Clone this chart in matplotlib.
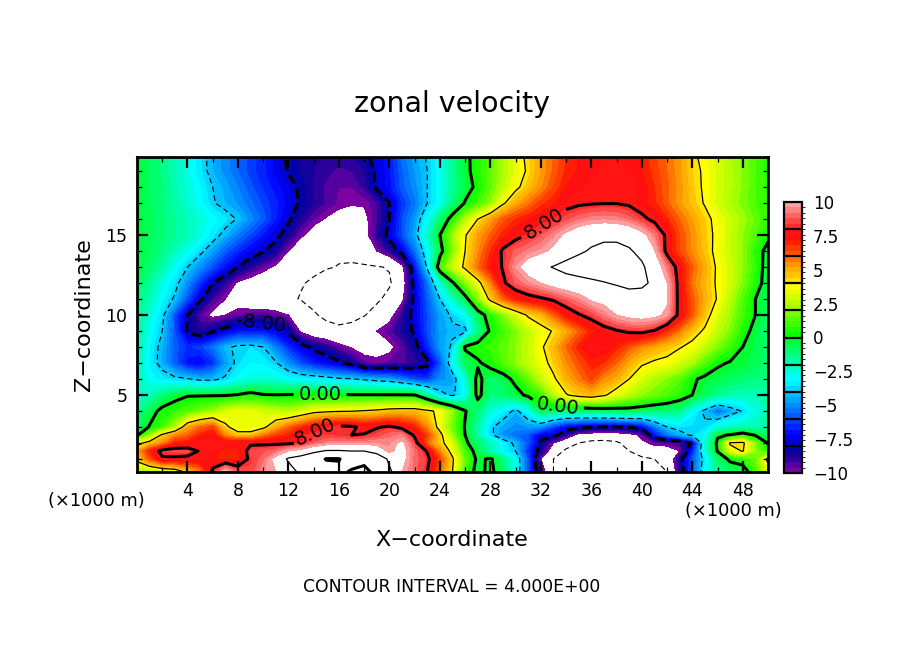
import numpy as np
import matplotlib
matplotlib.use("Agg")
import matplotlib.pyplot as plt
from matplotlib.colors import ListedColormap, BoundaryNorm

x_km = list(range(0, 51))
z_km = [0.19, 1, 1.5, 2, 2.5, 3, 4, 5, 6, 7, 8, 9, 10, 11, 12, 13, 14, 15, 16, 17, 18, 19, 19.88]

u_z00 = [2,2.3,2.6,3,4.3,5.5,8.3,10.3,8.8,8.5,9.5,10,11,12.5,13.5,14,15,16.5,17,15,12.5,10,9,8,6,4,1,-0.5,0.4,-1,-3,-6,-9,-12,-13.5,-14,-14.5,-14.5,-13.5,-13.5,-13,-12.5,-12,-9,-6,-3,-1.5,-1,-0.8,1,3]
u_z01 = [4.5,6.2,7.8,7.8,7.7,7.7,7.3,7,7,8.3,9,10.5,12.3,13,14,16.2,16.2,14,15,14,11.5,10.5,9,8.3,6.5,4.2,1.5,-0.3,0.2,-1.2,-3,-6,-10,-12,-12.5,-13,-13,-13,-12.8,-12.5,-12.5,-12,-11.5,-8.5,-6,-3.5,-1,0.3,0.7,1.5,4.5]
u_z15 = [5,7,8.4,8.5,8.5,7.9,7.6,6.8,7,8.5,8.7,9,10,10.5,11.5,12.2,12.2,12,12,11,9.7,10.6,9,7.9,5.5,3.5,1,-0.6,-2,-3.3,-4,-6.5,-8.6,-11,-12.3,-12.8,-12.8,-12.6,-12.3,-12,-10.7,-10.5,-10.8,-10,-6.8,-2.5,0.1,3.3,4.1,2,0.5]
u_z02 = [3.5,4.6,5.5,7,7.2,7.8,7.8,7.7,7.7,7.8,7.8,7.8,7.8,8,8.8,9.3,9.5,9.5,9.5,9.6,9.5,10.3,8.5,6,4.5,3,0.3,-1,-2,-3.2,-4.3,-6,-8.3,-10,-11.2,-12,-12.5,-12.6,-12.3,-11.3,-10.2,-9.8,-9.5,-9.2,-7.8,-2.5,0.3,4.2,4.3,1.8,-0.1]
u_z25 = [-0.2,2,4.3,5.5,6,7,7.4,5.5,4.5,4.5,5.7,6.5,7,7.9,8.2,8.4,8.2,8,8.05,8.5,9,9.3,7.8,6.5,4.5,2,0,-1.8,-3.7,-5,-5.5,-6,-7.5,-7.5,-9,-10.5,-10.7,-10.8,-10.7,-10.5,-9.7,-7,-5.5,-4.5,-3.8,-3,-0.2,0.1,0.7,-0.1,-0.8]
u_z03 = [-1,0.1,1,2.5,5,6,6.5,4.3,3.3,3.3,3.7,5,6,6.8,7.5,7.9,8.3,8.2,7.7,7.9,8.2,7.7,7,5.5,3.5,1.5,-0.1,-1.8,-3.8,-4.6,-5,-4.8,-5,-6.3,-7.3,-7.7,-7.9,-8.1,-8.1,-7.9,-7.5,-5.5,-4,-3.6,-3.7,-3.7,-2.5,-2.2,-2,-1.9,-1.8]
u_z04 = [-1.5,-0.6,0.4,0.8,1.2,1.7,2.2,3,3.5,3.3,3,2.7,2.5,3,3.6,3.8,3.9,3.95,4.1,4.3,4.6,4.7,4.7,4.3,3.7,2,0.1,-1.2,-2.5,-3.3,-4.3,-3,-0.6,-1,-1.2,-1.1,-1,-0.8,-0.7,-0.6,-0.8,-1,-1.1,-1.4,-3,-4.3,-5.6,-4.6,-3.9,-2.7,-2]
u_z05 = [-2.5,-2,-1.2,-0.5,-0.1,-0.1,-0.1,-0.1,0.1,0.5,0.1,0.05,0.1,0.1,0.1,0.1,0.1,0.1,0.1,0.1,0.1,0.1,0.05,-1.5,-3.6,-4.2,-3,0.5,-1.3,-1,-0.5,0.3,1,2.5,3.9,4.5,4.8,4.2,3.3,2.6,2,1.6,1.2,0.7,0,-0.8,-1.5,-1.9,-2,-2,-1.8]
u_z06 = [-2,-3,-3.4,-3.7,-3.9,-4.3,-4.3,-3.8,-3,-2.6,-2.5,-2.6,-3,-3.2,-3.3,-3.5,-3.8,-3.9,-4.2,-4.5,-4.7,-5.3,-6,-6.3,-5,-4.6,-2.5,0.5,-1,-0.6,0.4,1.5,2.7,3.8,4.9,5.7,6.5,5.5,5,4,3,2.4,1.9,1.3,0.2,-0.3,-0.5,-0.8,-1,-1.2,-1.3]
u_z07 = [-1.9,-3.3,-4.5,-5.8,-7,-7.3,-6.5,-4.8,-3.7,-3.2,-3.3,-3.9,-5,-6,-6.8,-7.3,-7.8,-8.5,-9.5,-9.7,-9.5,-9.3,-9,-8.4,-6,-3,-0.8,-0.2,0.5,1.2,2,2.7,3.5,4.4,5.5,6.3,7,6.8,6,5,4.2,3.8,3.6,3,2.3,1.2,0.2,-0.1,-0.3,-0.7,-1]
u_z08 = [-1.7,-3.2,-4.4,-5.8,-6.5,-6.2,-5.4,-4.3,-3.7,-3.6,-4,-5.2,-6.5,-7.5,-8.3,-8.8,-9.6,-10.1,-10.5,-10.6,-10.3,-9.5,-8.5,-6.6,-4.8,-3.8,0.2,0.6,0.9,1.4,2,2.8,3.8,4.8,6,7,7.8,7.6,7,6.2,5.5,5,4.6,4.1,3.6,2.7,1.8,0.9,0,-0.5,-1]
u_z09 = [-1.6,-2.9,-4,-6,-8.2,-8.8,-8.2,-7.5,-7,-6.8,-6.8,-7.4,-8.3,-10.2,-11,-11.3,-11.5,-11.3,-10.7,-10,-9.4,-8.7,-7.8,-6,-4.7,-4.2,-4.3,-1.5,0.2,1,1.8,2.7,3.5,4.1,5,6,7,7.5,7.9,8.2,8.3,7.9,6.8,5.8,4.6,3.8,2.7,1.8,0.5,-0.4,-1]
u_z10 = [-1.4,-2.5,-3.7,-6,-8,-9.5,-10.3,-10,-9.6,-9.4,-9.3,-9.5,-10,-10.6,-11.8,-12.4,-12.8,-12.6,-12.1,-11.3,-10.5,-9,-7.5,-6,-4.7,-3.8,-3,-0.7,0.6,1.8,3,4.2,4.8,6,7.2,7.9,8.4,9.2,10,10.4,10.6,10.4,9.7,7.6,6.2,4.6,3.2,2.2,1,0,-1]
u_z11 = [-1.1,-2,-3.1,-4.2,-6,-7.8,-9.2,-10,-10.6,-11,-11.2,-11.5,-11.7,-12.1,-12.5,-12.8,-13,-13,-12.8,-12.3,-11.5,-10.3,-7.6,-5.8,-4,-2.2,-0.5,1.8,4.4,6,7,7.5,7.8,8.2,8.8,9.4,10.2,10.5,10.8,11,10.9,10.6,10.2,7.5,6.2,5,3.9,2.5,1.2,0,-0.8]
u_z12 = [-0.8,-1.6,-2.7,-3.6,-5,-6.5,-8,-9,-10.2,-10.6,-11,-11.3,-11.6,-11.9,-12.2,-12.6,-12.9,-13,-13,-12.8,-12.2,-10.8,-7.5,-5.5,-2.5,-0.2,1.8,3.5,5.6,7.8,8.8,9.4,10,10.6,11,11.3,11.6,11.9,12.2,12.6,12.5,11.5,10,7.5,5.8,4.8,3.8,3,1.8,0.5,-0.5]
u_z13 = [-0.5,-1,-1.8,-2.9,-4,-5,-6,-7,-8,-8.9,-9.6,-10.2,-10.8,-11.3,-11.7,-11.9,-12.05,-12.2,-12.2,-12.1,-11.9,-10.4,-7,-3.8,1,2.8,4.3,5.9,7.2,8.1,9.6,10.8,11.6,12.1,12.7,13,13.2,13.2,13.2,13,12.3,11,9.2,7.4,6.1,5,3.8,3,2,0.8,-0.6]
u_z14 = [-0.3,-0.8,-1.3,-2.1,-2.8,-3.7,-4.7,-5.8,-6.6,-7.3,-7.9,-8.7,-10,-11,-11.5,-11.8,-11.8,-11.5,-11,-10,-9,-7.5,-5.5,-3.2,-0.5,1.8,4,5.5,6.8,8.2,8.9,9.3,9.7,10.3,11,11.7,12.2,12.5,12.5,12.2,11.5,10.1,7.6,6.4,5.5,4.6,3.6,2.8,2,0.6,-0.4]
u_z150 = [-0.3,-0.7,-1.1,-1.6,-2,-2.6,-3.5,-4.4,-5.3,-6.1,-6.9,-7.6,-8.7,-9.8,-10.6,-11,-11.2,-11.1,-10.5,-9,-7.6,-6,-4.5,-2.2,0,2.2,3.9,5.2,6.1,7,7.6,8.1,8.7,9.4,10.3,11,11.4,11.6,11.6,11.3,10.5,9.2,7.7,6.4,5.5,4.5,3.7,2.8,2,1.2,0.3]
u_z16 = [-0.2,-0.7,-1.1,-1.6,-2,-2.5,-3,-3.5,-4.1,-5,-5.8,-6.8,-7.8,-8.8,-9.6,-10.1,-10.5,-10.6,-10.3,-9.3,-8,-6,-4.8,-3,-1,0.5,2.5,4,5.2,6.2,6.8,7.2,7.6,8,8.6,9.1,9.4,9.5,9.4,9,8.3,7.7,6.9,6,5.2,4.4,3.6,2.9,2.2,1.5,0.8]
u_z17 = [-0.2,-0.8,-1.2,-1.8,-2.4,-3,-3.9,-4.4,-4.9,-5.5,-6.1,-6.7,-7.4,-8.2,-8.8,-9.3,-9.7,-9.9,-9.9,-9.3,-8,-6.4,-5.4,-4,-2.9,-1.2,0.1,1,2,3.8,5,5.8,6.6,7.1,7.6,7.8,7.9,7.95,7.95,7.8,7.4,6.9,6.1,5.3,4.6,3.9,3,2.4,1.8,1.2,0.7]
u_z18 = [-0.2,-0.8,-1.2,-1.9,-2.5,-3.2,-4,-4.6,-5.2,-5.9,-6.5,-7,-7.6,-8.2,-8.9,-9.3,-9.6,-9.6,-9.1,-7.8,-7,-5.8,-5,-4,-2.9,-1.6,-0.5,0.3,1.4,2.6,3.7,4.6,5.5,6.4,7.2,7.5,7.7,7.7,7.8,7.8,7.5,6.8,6.1,5.4,4.5,3.8,3.1,2.5,1.9,1.2,0.7]
u_z19 = [-0.2,-0.8,-1.3,-2,-2.7,-3.5,-4.4,-5,-5.6,-6.2,-6.7,-7.4,-8.1,-8.5,-8.8,-9.1,-9.3,-9.2,-8.8,-7.8,-6.9,-5.7,-4.8,-4,-2.9,-1.6,-0.4,0.6,1.4,2.4,3.3,4.2,5.2,6.1,6.9,7.3,7.5,7.7,7.7,7.6,7.2,6.6,6,5.3,4.4,3.8,3.1,2.5,1.9,1.2,0.6]
u_z20 = [-0.2,-0.8,-1.3,-2,-2.7,-3.5,-4.5,-5,-5.6,-6.2,-6.7,-7.4,-8.2,-8.5,-8.7,-8.9,-9,-8.9,-8.3,-7.6,-6.8,-5.5,-4.6,-3.9,-2.8,-1.5,-0.3,0.5,1.3,2.3,3.4,4.3,5.2,6,6.8,7.2,7.5,7.6,7.6,7.5,7.1,6.5,5.9,5.3,4.3,3.6,3,2.4,1.8,1.2,0.6]

U = np.array([u_z00,u_z01,u_z15,u_z02,u_z25,u_z03,u_z04,u_z05,u_z06,u_z07,u_z08,u_z09,u_z10,
              u_z11,u_z12,u_z13,u_z14,u_z150,u_z16,u_z17,u_z18,u_z19,u_z20], float)

cell_rgb = [
    (125,0,160),(85,0,160),(45,0,155),(20,0,155),(0,0,170),
    (0,0,210),(0,0,235),(0,10,255),(0,35,255),(0,60,255),
    (0,90,255),(0,115,255),(0,140,255),(0,165,255),(0,190,255),
    (0,215,255),(0,240,255),(0,255,255),(0,255,225),(0,255,200),
    (0,255,170),(0,255,140),(0,255,110),(0,255,80),(0,255,50),
    (10,255,0),(30,255,0),(60,255,0),(90,255,0),(120,255,0),
    (160,255,0),(185,255,0),(210,255,0),(235,255,0),(255,255,0),
    (255,225,0),(255,195,0),(255,175,0),(255,150,0),(255,120,0),
    (255,85,0),(255,60,0),(255,30,0),(255,15,15),(255,20,20),
    (255,45,45),(255,70,70),(255,100,100),(255,130,130),(255,160,160),
]
cmap = ListedColormap([(r/255, g/255, b/255) for r, g, b in cell_rgb])
levels = np.linspace(-10, 10, 51)
norm = BoundaryNorm(levels, 50)

plt.rcParams["font.family"] = "DejaVu Sans"
fig = plt.figure(figsize=(9.04, 6.54), dpi=100)
W, H = 904.0, 654.0
ax = fig.add_axes([137/W, 1-472/H, (768-137)/W, (472-157)/H])
cf = ax.contourf(x_km, z_km, U, levels=levels, cmap=cmap, norm=norm, antialiased=False)

def lines(levs, lw, ls):
    return ax.contour(x_km, z_km, U, levels=levs, colors="k", linewidths=lw, linestyles=ls)

lines([-12, -4], 0.8, [(0, (5, 3))])
lines([4, 12], 0.9, "solid")
cs_neg = lines([-8], 2.2, [(0, (3.5, 1.5))])
cs_pos = lines([0, 8, 16], 2.2, "solid")
ax.clabel(cs_neg, fmt="%.2f", fontsize=14, manual=[(9.8, 9.2)])
ax.clabel(cs_pos, fmt="%.2f", fontsize=14,
          manual=[(14.5, 5.0), (33.3, 4.1), (14.2, 2.5), (32.3, 15.6)])

ax.set_xlim(0, 50)
ax.set_ylim(0.19, 19.88)
ax.set_xticks(range(4, 50, 4))
ax.set_xticks(range(2, 50, 2), minor=True)
ax.set_yticks([5, 10, 15])
ax.set_yticks(range(1, 20), minor=True)
ax.tick_params(which="major", direction="in", length=8, width=1.6, top=True, right=True,
               labelsize=12.5, pad=7)
ax.tick_params(which="minor", direction="in", length=3.5, width=0.9, top=True, right=True)
for s in ax.spines.values():
    s.set_linewidth(2)

cax = fig.add_axes([784/W, 1-473/H, 18/W, (473-202)/H])
cb = fig.colorbar(cf, cax=cax, ticks=[-10,-7.5,-5,-2.5,0,2.5,5,7.5,10], spacing="proportional")
cb.ax.set_yticklabels(["\u221210","\u22127.5","\u22125","\u22122.5","0","2.5","5","7.5","10"])
cb.ax.tick_params(length=0, labelsize=12, pad=8)
cb.outline.set_linewidth(1.6)
cax.hlines(np.arange(-8, 9, 2), 0, 1, transform=cax.get_yaxis_transform(), colors="k", lw=1.6)

def t(px, py, s, **kw):
    fig.text(px/W, 1-py/H, s, ha=kw.pop("ha","center"), va="center", **kw)

t(452, 104, "zonal velocity", fontsize=20.5)
t(452, 540, "X\u2212coordinate", fontsize=16)
t(84, 315, "Z\u2212coordinate", fontsize=16, rotation=90)
t(452, 587, "CONTOUR INTERVAL = 4.000E+00", fontsize=12.4)
t(96, 501, "(\u00d71000 m)", fontsize=12.8)
t(733, 511, "(\u00d71000 m)", fontsize=12.8)

fig.savefig("out.png", dpi=100)
